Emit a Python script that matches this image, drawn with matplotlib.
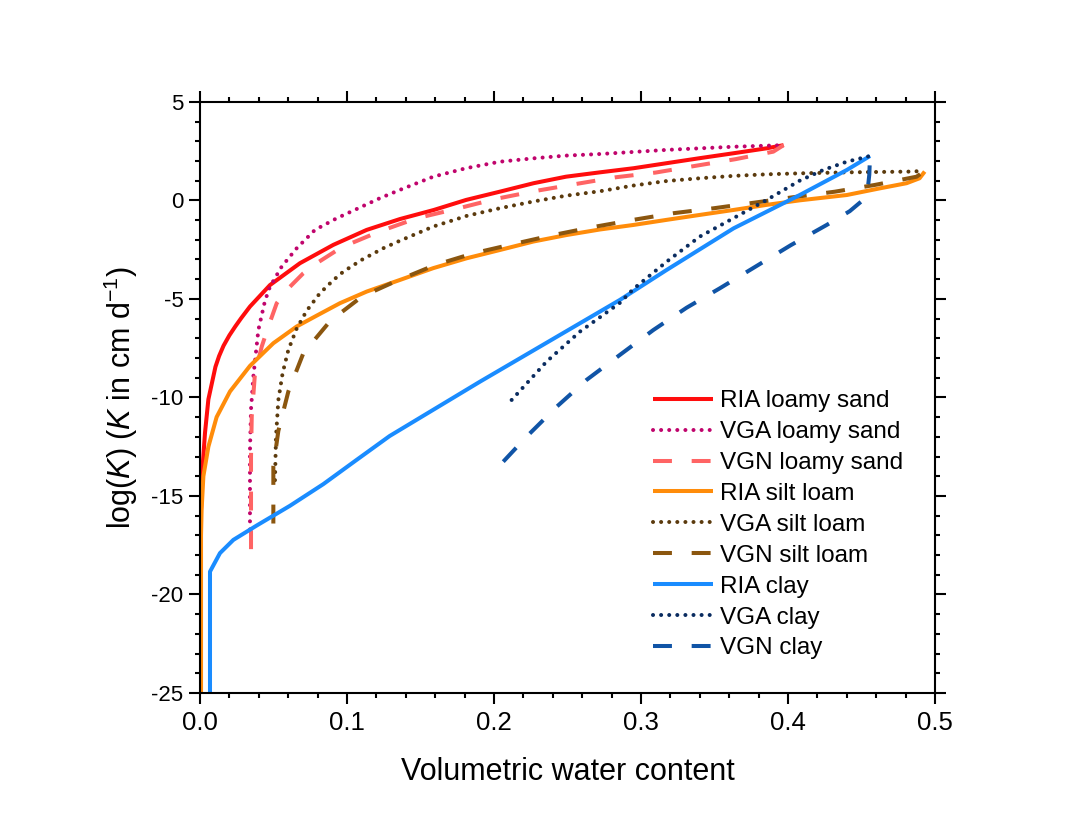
import matplotlib
matplotlib.use("Agg")
import matplotlib.pyplot as plt
from matplotlib.ticker import MultipleLocator

plt.rcParams['font.family'] = ['Liberation Sans', 'DejaVu Sans']
plt.rcParams['mathtext.fontset'] = 'custom'
plt.rcParams['mathtext.rm'] = 'Liberation Sans'
plt.rcParams['mathtext.it'] = 'Liberation Sans:italic'
plt.rcParams['axes.unicode_minus'] = False

# ---------------- data ----------------
ria_ls_theta = [0.0, 0.0007, 0.0018, 0.0034, 0.0057, 0.0105, 0.013, 0.016, 0.02, 0.024,
                0.028, 0.034, 0.0476, 0.068, 0.0907, 0.1134, 0.136, 0.159, 0.181, 0.204,
                0.227, 0.249, 0.272, 0.295, 0.317, 0.34, 0.363, 0.3855, 0.397]
ria_ls_logk = [-16.2, -15.7, -13.5, -11.8, -10.1, -8.45, -7.9, -7.38, -6.85, -6.4,
               -5.98, -5.39, -4.3, -3.19, -2.26, -1.5, -0.95, -0.49, 0.02, 0.44,
               0.87, 1.2, 1.42, 1.63, 1.88, 2.14, 2.39, 2.64, 2.8]

vga_ls_theta = [0.034, 0.034, 0.0347, 0.0363, 0.0397, 0.0442, 0.0476, 0.0556, 0.0658, 0.0782,
                0.093, 0.1066, 0.1224, 0.136, 0.1587, 0.181, 0.204, 0.2267, 0.249, 0.272,
                0.3175, 0.363, 0.397]
vga_ls_logk = [-16.7, -12.7, -10.6, -8.94, -6.58, -5.1, -4.38, -3.36, -2.43, -1.5,
               -0.91, -0.44, 0.11, 0.53, 1.2, 1.63, 1.96, 2.13, 2.27, 2.35,
               2.56, 2.72, 2.8]

vgn_ls_theta = [0.0347, 0.0347, 0.0352, 0.0374, 0.042, 0.0465, 0.0522, 0.059, 0.0703, 0.0794,
                0.0964, 0.1218, 0.1474, 0.174, 0.201, 0.2286, 0.2558, 0.2828, 0.31, 0.337,
                0.3644, 0.39, 0.397]
vgn_ls_logk = [-17.7, -13.0, -10.97, -8.77, -7.42, -6.41, -5.22, -4.55, -3.7, -3.19,
               -2.38, -1.59, -0.91, -0.44, 0.07, 0.48, 0.83, 1.17, 1.41, 1.75,
               2.09, 2.47, 2.8]

ria_sl_theta = [0.0007, 0.0007, 0.0011, 0.0023, 0.0057, 0.0113, 0.0204, 0.034, 0.0499, 0.0658,
                0.0794, 0.0952, 0.1134, 0.136, 0.1587, 0.1814, 0.204, 0.2268, 0.2494, 0.272,
                0.2948, 0.3175, 0.34, 0.3628, 0.3855, 0.408, 0.44, 0.4626, 0.4807, 0.4895, 0.493]
ria_sl_logk = [-25.0, -17.0, -15.7, -14.0, -12.5, -11.0, -9.7, -8.4, -7.25, -6.4,
               -5.85, -5.22, -4.63, -4.04, -3.44, -2.94, -2.52, -2.09, -1.76, -1.48,
               -1.25, -0.99, -0.74, -0.49, -0.23, 0.0, 0.27, 0.61, 0.87, 1.12, 1.46]

vga_sl_theta = [0.051, 0.0517, 0.0533, 0.0562, 0.0601, 0.0658, 0.0726, 0.0816, 0.0907, 0.0975,
                0.11, 0.1247, 0.136, 0.1587, 0.1814, 0.204, 0.2267, 0.2494, 0.272, 0.2948,
                0.3175, 0.34, 0.3628, 0.3855, 0.408, 0.44, 0.485, 0.492]
vga_sl_logk = [-14.2, -12.0, -10.13, -8.77, -7.59, -6.5, -5.6, -4.71, -4.05, -3.62,
               -3.02, -2.43, -2.05, -1.33, -0.79, -0.4, -0.06, 0.24, 0.46, 0.75,
               0.98, 1.12, 1.24, 1.32, 1.37, 1.42, 1.46, 1.5]

vgn_sl_theta = [0.0499, 0.0499, 0.0533, 0.0601, 0.0703, 0.0886, 0.1102, 0.1327, 0.160, 0.1864,
                0.2136, 0.2404, 0.2664, 0.2948, 0.3224, 0.3497, 0.3769, 0.4027, 0.432, 0.459,
                0.4875, 0.493]
vgn_sl_logk = [-16.4, -13.5, -11.7, -9.7, -7.76, -6.12, -4.88, -4.12, -3.28, -2.68,
               -2.21, -1.76, -1.37, -0.99, -0.65, -0.4, -0.12, 0.15, 0.44, 0.78,
               1.2, 1.5]

ria_cl_theta = [0.0068, 0.0068, 0.0136, 0.0227, 0.0386, 0.0612, 0.0839, 0.106, 0.129, 0.1905,
                0.2857, 0.3175, 0.363, 0.408, 0.44, 0.4558]
ria_cl_logk = [-25.0, -18.84, -17.9, -17.23, -16.5, -15.5, -14.4, -13.2, -11.96, -9.2,
               -5.05, -3.53, -1.42, 0.27, 1.54, 2.25]

vga_cl_theta = [0.212, 0.2358, 0.2585, 0.2857, 0.2948, 0.3175, 0.34, 0.3628, 0.3855, 0.408,
                0.424, 0.44, 0.4558]
vga_cl_logk = [-10.13, -8.18, -6.66, -5.2, -4.5, -3.11, -1.84, -0.91, 0.02, 1.0,
               1.54, 1.96, 2.25]

vgn_cl_theta = [0.2063, 0.2222, 0.2427, 0.263, 0.2857, 0.3084, 0.331, 0.3537, 0.378, 0.4018,
                0.4263, 0.442, 0.450, 0.454, 0.4553, 0.4558]
vgn_cl_logk = [-13.26, -11.99, -10.47, -9.11, -7.84, -6.58, -5.45, -4.46, -3.36, -2.28,
               -1.25, -0.55, -0.05, 0.4, 1.3, 2.25]

labels = ['RIA loamy sand', 'VGA loamy sand', 'VGN loamy sand',
          'RIA silt loam', 'VGA silt loam', 'VGN silt loam',
          'RIA clay', 'VGA clay', 'VGN clay']
colors = ['#ff0d0d', '#c0046c', '#ff6464',
          '#ff8c0a', '#5b3a0d', '#8b560f',
          '#1a8cff', '#0a2c60', '#1054a6']
kinds = ['solid', 'dot', 'dash'] * 3

xticks = [0.0, 0.1, 0.2, 0.3, 0.4, 0.5]
yticks = [5, 0, -5, -10, -15, -20, -25]

series = [(ria_ls_theta, ria_ls_logk), (vga_ls_theta, vga_ls_logk), (vgn_ls_theta, vgn_ls_logk),
          (ria_sl_theta, ria_sl_logk), (vga_sl_theta, vga_sl_logk), (vgn_sl_theta, vgn_sl_logk),
          (ria_cl_theta, ria_cl_logk), (vga_cl_theta, vga_cl_logk), (vgn_cl_theta, vgn_cl_logk)]

# ---------------- figure ----------------
fig = plt.figure(figsize=(10.7, 8.23), dpi=100)
ax = fig.add_axes([200 / 1070, 1 - 693 / 823, 735 / 1070, 591.2 / 823])

lw = 2.9
for (x, y), lab, col, kind in zip(series, labels, colors, kinds):
    if kind == 'solid':
        ax.plot(x, y, color=col, lw=lw, label=lab, solid_capstyle='butt', solid_joinstyle='round')
    elif kind == 'dot':
        ax.plot(x, y, color=col, lw=lw, label=lab, linestyle=(0, (0.01, 2.0)),
                dash_capstyle='round')
    else:
        ax.plot(x, y, color=col, lw=lw, label=lab, linestyle=(0, (4.7, 4.9)),
                dash_capstyle='butt')

ax.set_xlim(0, 0.5)
ax.set_ylim(-25, 5)
ax.set_xticks(xticks)
ax.set_yticks(yticks)
ax.set_xticklabels(['%.1f' % v for v in xticks])
ax.set_yticklabels(['%d' % v for v in yticks])
ax.xaxis.set_minor_locator(MultipleLocator(0.02))
ax.yaxis.set_minor_locator(MultipleLocator(1))

for sp in ax.spines.values():
    sp.set_linewidth(1.5)

ax.tick_params(which='both', direction='out', top=True, right=True, width=1.5, color='black')
ax.tick_params(which='major', length=8)
ax.tick_params(which='minor', length=3.8)
ax.tick_params(axis='x', which='major', labelsize=18.5, pad=5)
ax.tick_params(axis='y', which='major', labelsize=16, pad=4)

ax.set_xlabel('Volumetric water content', fontsize=22, labelpad=16)
ax.set_ylabel(r'log($\mathit{K}$) ($\mathit{K}$ in cm d$^{-1}$)', fontsize=22, labelpad=8)

leg = ax.legend(loc='upper left', bbox_to_anchor=(0.6167, 0.512), frameon=False,
                fontsize=17.5, handlelength=2.45, handletextpad=0.3, labelspacing=0.365,
                borderpad=0, borderaxespad=0)

fig.savefig('out.png', dpi=100)
